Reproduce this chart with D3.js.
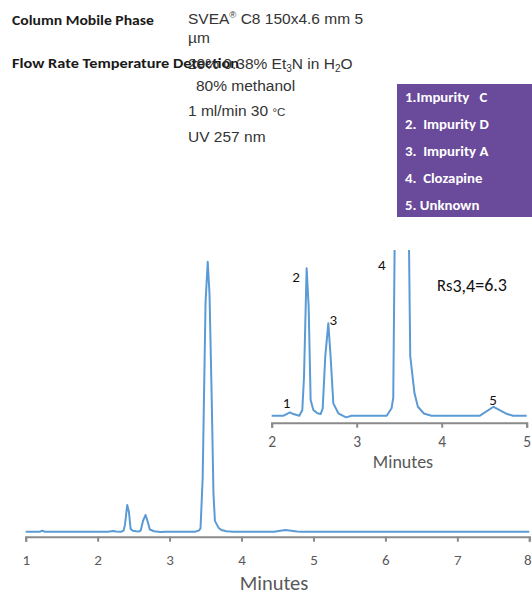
<!DOCTYPE html>
<html>
<head>
<meta charset="utf-8">
<script src="https://cdn.jsdelivr.net/npm/d3@7"></script>
<style>
  html, body { margin: 0; padding: 0; background: #fff; }
  svg { display: block; }
</style>
</head>
<body>
<svg id="chart" width="532" height="594"></svg>
<script>
// Chromatogram trace: retention time (min) and detector response (relative units)
const times = [1.00, 1.20, 1.23, 1.27, 2.00, 2.14, 2.215, 2.255, 2.325, 2.36, 2.38, 2.411, 2.435, 2.458, 2.49,
  2.537, 2.576, 2.60, 2.63, 2.666, 2.693, 2.725, 2.784, 2.874, 2.94, 3.353, 3.41, 3.43, 3.46, 3.50,
  3.53, 3.555, 3.585, 3.61, 3.63, 3.68, 3.72, 3.79, 3.88, 4.45, 4.61, 4.77, 4.84, 5.00, 8.00];
const signal = [0, 0, 0.35, 0, 0, 0, 0.22, 0.11, 0, 0.38, 2.6, 9.89, 7.3, 1.05, 0.38,
  0.16, 0.11, 0.49, 3.96, 6.2, 3.96, 0.83, 0.16, -0.11, 0, 0, 0.5, 1.2, 20, 85,
  100, 88, 50, 14, 4, 1.5, 0.6, 0.15, 0, 0, 0.6, 0.11, 0, 0, 0];

// Axis ticks
const mainTicks = [1, 2, 3, 4, 5, 6, 7, 8];
const insetTicks = [2, 3, 4, 5];

// Peak annotations in the zoomed view (time, label)
const peakTimes = [2.215, 2.411, 2.666, 3.53, 4.61];
const peakLabels = ["1", "2", "3", "4", "5"];

// Peak identification list
const legendItems = ["1.Impurity   C", "2.  Impurity D", "3.  Impurity A", "4.  Clozapine", "5. Unknown"];

const data = times.map((t, i) => ({ t, v: signal[i] }));

const svg = d3.select("#chart");
const calibri = "Carlito, Lato, 'Open Sans', sans-serif";
const arial = "'Liberation Sans', Arial, sans-serif";
const lineColor = "#5b9bd5";
const axisColor = "#8a8a8a";
const tickTextColor = "#595959";

// ---------- Method conditions ----------
const cond = svg.append("g");
cond.append("text").attr("x", 12).attr("y", 25)
  .attr("font-family", calibri).attr("font-weight", 700).attr("font-size", 13)
  .attr("fill", "#1a1a1a").attr("textLength", 142).attr("lengthAdjust", "spacingAndGlyphs")
  .text("Column Mobile Phase");
cond.append("text").attr("x", 12).attr("y", 68)
  .attr("font-family", calibri).attr("font-weight", 700).attr("font-size", 13)
  .attr("fill", "#1a1a1a").attr("textLength", 227).attr("lengthAdjust", "spacingAndGlyphs")
  .text("Flow Rate Temperature Detection");

const right = cond.append("g").attr("font-family", arial).attr("font-size", 15.5).attr("fill", "#333");
const l1 = right.append("text").attr("x", 188).attr("y", 24);
l1.append("tspan").text("SVEA");
l1.append("tspan").attr("font-size", 9.5).attr("dy", -6).text("®");
l1.append("tspan").attr("dy", 6).text(" C8 150x4.6 mm 5");
right.append("text").attr("x", 188).attr("y", 43).text("µm");
const l3 = right.append("text").attr("x", 188).attr("y", 69);
l3.append("tspan").text("20% 0.38% Et");
l3.append("tspan").attr("font-size", 10).attr("dy", 3).text("3");
l3.append("tspan").attr("dy", -3).text("N in H");
l3.append("tspan").attr("font-size", 10).attr("dy", 3).text("2");
l3.append("tspan").attr("dy", -3).text("O");
right.append("text").attr("x", 196).attr("y", 91).text("80% methanol");
const l5 = right.append("text").attr("x", 188).attr("y", 116);
l5.append("tspan").text("1 ml/min 30 ");
l5.append("tspan").attr("font-size", 11.5).text("°C");
right.append("text").attr("x", 188).attr("y", 142).text("UV 257 nm");

// ---------- Peak legend ----------
const legend = svg.append("g");
legend.append("rect").attr("x", 397).attr("y", 84).attr("width", 135).attr("height", 133)
  .attr("fill", "#6a4a9b");
legend.selectAll("text").data(legendItems).join("text")
  .attr("x", 405).attr("y", (d, i) => 102 + i * 27)
  .attr("font-family", calibri).attr("font-weight", 700).attr("font-size", 14.8)
  .attr("fill", "#fff").attr("xml:space", "preserve").style("white-space", "pre")
  .text(d => d);

// ---------- Full chromatogram ----------
const x = d3.scaleLinear().domain([1, 8]).range([25.7, 529.3]);
const y = d3.scaleLinear().domain([0, 100]).range([531.7, 261.7]);

const mainAxis = svg.append("g").attr("transform", "translate(0,536.7)")
  .call(d3.axisBottom(x).tickValues(mainTicks).tickFormat(d3.format("d")).tickSize(5).tickPadding(13));
mainAxis.select(".domain").attr("stroke", axisColor).attr("stroke-width", 2);
mainAxis.selectAll(".tick line").attr("stroke", axisColor).attr("stroke-width", 2);
mainAxis.selectAll(".tick text").attr("font-family", calibri).attr("font-size", 15).attr("fill", tickTextColor);
// keep the last tick label inside the page edge
mainAxis.selectAll(".tick text").filter(d => d === 8).attr("dx", -2);

svg.append("text").attr("x", 274).attr("y", 589.5).attr("text-anchor", "middle")
  .attr("font-family", calibri).attr("font-size", 20.5).attr("fill", tickTextColor).text("Minutes");

const mainLine = d3.line().x(d => x(d.t)).y(d => y(d.v));
svg.append("path").datum(data).attr("d", mainLine)
  .attr("fill", "none").attr("stroke", lineColor).attr("stroke-width", 2).attr("stroke-linejoin", "round");

// ---------- Zoomed view 2–5 min ----------
const xi = d3.scaleLinear().domain([2, 5]).range([271.7, 526.7]);
const yi = d3.scaleLinear().domain([0, 10]).range([415.7, 266.7]);

svg.append("clipPath").attr("id", "inset-clip")
  .append("rect").attr("x", 265).attr("y", 250).attr("width", 267).attr("height", 180);

const insetAxis = svg.append("g").attr("transform", "translate(0,422.7)")
  .call(d3.axisBottom(xi).tickValues(insetTicks).tickFormat(d3.format("d")).tickSize(5).tickPadding(8));
insetAxis.select(".domain").attr("stroke", axisColor).attr("stroke-width", 2);
insetAxis.selectAll(".tick line").attr("stroke", axisColor).attr("stroke-width", 2);
insetAxis.selectAll(".tick text").attr("font-family", calibri).attr("font-size", 15.5).attr("fill", tickTextColor);

svg.append("text").attr("x", 403).attr("y", 468).attr("text-anchor", "middle")
  .attr("font-family", calibri).attr("font-size", 18).attr("fill", tickTextColor).text("Minutes");

const insetData = data.filter(d => d.t >= 2 && d.t <= 5);
const insetLine = d3.line().x(d => xi(d.t)).y(d => yi(d.v));
svg.append("path").datum(insetData).attr("d", insetLine).attr("clip-path", "url(#inset-clip)")
  .attr("fill", "none").attr("stroke", lineColor).attr("stroke-width", 2).attr("stroke-linejoin", "round");

// Peak number labels, placed beside each apex (label 4 sits below the clipped top)
const labelOffsets = [[-3.3, -4], [-10.7, 11.7], [5, 1.7], [-20, 0], [-0.6, -1.7]];
svg.append("g").selectAll("text").data(peakTimes).join("text")
  .attr("x", (t, i) => xi(t) + labelOffsets[i][0])
  .attr("y", (t, i) => Math.max(yi(signal[times.indexOf(t)]), 270) + labelOffsets[i][1])
  .attr("text-anchor", "middle")
  .attr("font-family", calibri).attr("font-size", 15).attr("fill", "#111")
  .text((t, i) => peakLabels[i]);

const rs = svg.append("text").attr("x", 437).attr("y", 291)
  .attr("font-family", calibri).attr("font-size", 16.5).attr("fill", "#111");
rs.append("tspan").text("Rs");
rs.append("tspan").attr("font-size", 18).attr("dy", 1).text("3,4");
rs.append("tspan").attr("font-size", 18).attr("dy", -1).text("=6.3");
</script>
</body>
</html>
